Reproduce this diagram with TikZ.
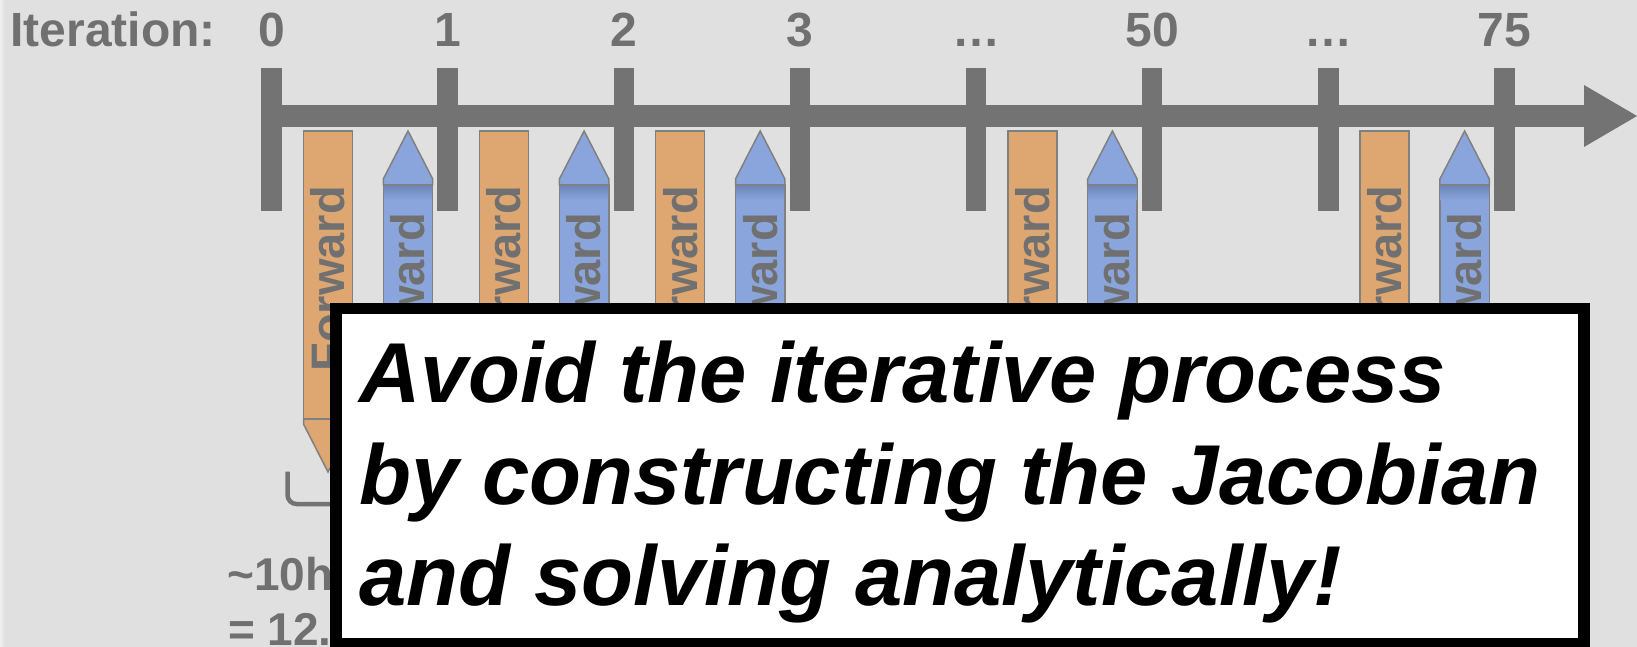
\documentclass[tikz,border=0pt]{standalone}
\usepackage{fontspec}
\setmainfont{Liberation Sans}
\definecolor{bg}{HTML}{E0E0E0}
\definecolor{axisgray}{HTML}{737373}
\definecolor{txtgray}{HTML}{707070}
\definecolor{orng}{HTML}{DEA670}
\definecolor{blu}{HTML}{89A5DC}
\definecolor{bludark}{HTML}{6E86B8}
\definecolor{edgegray}{HTML}{808080}
\begin{document}
\begin{tikzpicture}[x=1pt,y=-1pt,
  lbl/.style={text=txtgray,font=\fontsize{48}{58}\selectfont\bfseries,inner sep=0pt,anchor=base},
  bartxt/.style={text=txtgray,font=\fontsize{47}{56}\selectfont\bfseries,inner sep=0pt,rotate=90,anchor=east},
  barline/.style={draw=edgegray,line width=1.5pt},
  tickbar/.style={fill=axisgray},
  bigtxt/.style={font=\fontsize{85}{100}\selectfont\bfseries\itshape,inner sep=0pt,anchor=base west,text=black},
  note/.style={text=txtgray,font=\fontsize{46}{55}\selectfont\bfseries,inner sep=0pt,anchor=base west}
]
\useasboundingbox (0,0) rectangle (1637,647);
\fill[bg] (0,0) rectangle (1637,647);
\shade[left color=bg!50!white,right color=bg] (0,0) rectangle (5,647);
\node[lbl,anchor=base west] (iter) at (10.4,47) {Iteration:};
% axis
\fill[axisgray] (261.5,105.2) rectangle (1585,126.7);
\fill[axisgray] (1584,85) -- (1637,116) -- (1584,147) -- cycle;
\foreach \i/\t in {0/0,1/1,2/2,3/3,4/…,5/50,6/…,7/75}{
  \pgfmathsetmacro{\xx}{271.6+176.1*\i}
  \fill[tickbar] (\xx-10.3,68.3) rectangle (\xx+10.3,211);
  \node[lbl] (lab\i) at (\xx,47) {\t};
}
% forward / backward bars
\foreach \i in {0,1,2,4,6}{
  \pgfmathsetmacro{\xo}{271.6+176.1*\i+56.4}
  \pgfmathsetmacro{\xb}{271.6+176.1*\i+136.4}
  \filldraw[fill=orng,barline] (\xo-24.5,131) rectangle (\xo+24.5,419);
  \filldraw[fill=orng,barline] (\xo-24.5,419) -- (\xo-24.5,424) -- (\xo,472) -- (\xo+24.5,424) -- (\xo+24.5,419) -- cycle;
  \node[bartxt] (fw\i) at (\xo,186) {Forward};
  \filldraw[fill=blu,barline] (\xb-24.7,185) rectangle (\xb+24.7,480);
  \shade[top color=bludark,bottom color=blu] (\xb-23.9,185.8) rectangle (\xb+23.9,200);
  \filldraw[fill=blu,barline] (\xb-24.7,185) -- (\xb-24.7,179) -- (\xb,131) -- (\xb+24.7,179) -- (\xb+24.7,185) -- cycle;
  \node[bartxt] (bw\i) at (\xb,213) {Backward};
}
% bracket
\draw[axisgray,line width=4.5,rounded corners=9] (287.5,471.7) -- (287.5,504) -- (345,504);
% notes
\node[note] (t1) at (227,590) {\textasciitilde10h};
\node[note] (t2) at (228,645) {= 12.};
% big box
\draw[line width=11.7,fill=white] (336,308.5) rectangle (1584,644);
\node[bigtxt] (l1) at (359.3,402.3) {Avoid the iterative process};
\node[bigtxt] (l2) at (359.3,504.3) {by constructing the Jacobian};
\node[bigtxt] (l3) at (359.3,605.7) {and solving analytically!};
\end{tikzpicture}
\end{document}
